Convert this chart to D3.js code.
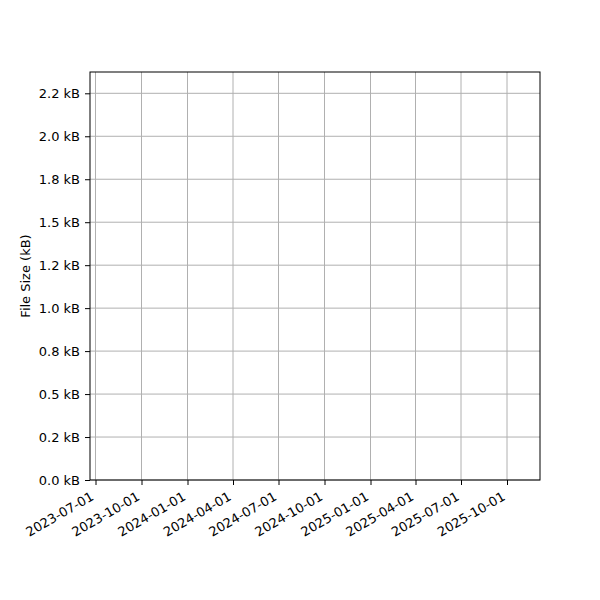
<!DOCTYPE html>
<html>
<head>
<meta charset="utf-8">
<script src="https://cdn.jsdelivr.net/npm/d3@7"></script>
<style>
  body { margin: 0; background: #fff; }
  text { font-family: "DejaVu Sans", sans-serif; }
</style>
</head>
<body>
<div id="chart"></div>
<script>
// data: the plotted series is empty in the reference
const fileDates = [];
const fileSizes = [];

// axis limits and ticks
const xDomain = ["2023-06-20", "2025-12-06"];
const xTickDates = ["2023-07-01", "2023-10-01", "2024-01-01", "2024-04-01", "2024-07-01",
                    "2024-10-01", "2025-01-01", "2025-04-01", "2025-07-01", "2025-10-01"];
const yDomain = [0, 2374];
const yTickValues = [0, 250, 500, 750, 1000, 1250, 1500, 1750, 2000, 2250];
const yTickLabels = ["0.0 kB", "0.2 kB", "0.5 kB", "0.8 kB", "1.0 kB",
                     "1.2 kB", "1.5 kB", "1.8 kB", "2.0 kB", "2.2 kB"];

const W = 600, H = 600;
const mLeft = 90, mRight = 540, mTop = 72, mBottom = 480;

const parse = d3.utcParse("%Y-%m-%d");

const svg = d3.select("#chart").append("svg")
    .attr("width", W).attr("height", H);

const x = d3.scaleUtc()
    .domain(xDomain.map(parse))
    .range([mLeft, mRight]);

const y = d3.scaleLinear()
    .domain(yDomain)
    .range([mBottom, mTop]);

// grid
svg.append("g").selectAll("line")
    .data(xTickDates.map(parse))
    .join("line")
    .attr("x1", d => x(d)).attr("x2", d => x(d))
    .attr("y1", mTop).attr("y2", mBottom)
    .attr("stroke", "#b0b0b0").attr("stroke-width", 1);

svg.append("g").selectAll("line")
    .data(yTickValues)
    .join("line")
    .attr("x1", mLeft).attr("x2", mRight)
    .attr("y1", d => y(d)).attr("y2", d => y(d))
    .attr("stroke", "#b0b0b0").attr("stroke-width", 1);

// series (empty)
const line = d3.line()
    .x((d, i) => x(parse(fileDates[i])))
    .y(d => y(d));
if (fileSizes.length) {
    svg.append("path")
        .attr("d", line(fileSizes))
        .attr("fill", "none")
        .attr("stroke", "#1f77b4")
        .attr("stroke-width", 2);
}

// x axis
const xAxis = svg.append("g")
    .attr("transform", `translate(0,${mBottom})`)
    .call(d3.axisBottom(x)
        .tickValues(xTickDates.map(parse))
        .tickFormat(d3.utcFormat("%Y-%m-%d"))
        .tickSize(5).tickPadding(5));
xAxis.select(".domain").remove();
xAxis.selectAll(".tick line").attr("stroke", "#000").attr("stroke-width", 1);
xAxis.selectAll(".tick text")
    .attr("font-size", 13)
    .attr("fill", "#000")
    .attr("text-anchor", "end")
    .attr("dy", "0.72em")
    .attr("y", 0).attr("x", 0)
    .attr("transform", "translate(-6,11) rotate(-30)");

// y axis
const yAxis = svg.append("g")
    .attr("transform", `translate(${mLeft},0)`)
    .call(d3.axisLeft(y)
        .tickValues(yTickValues)
        .tickFormat((d, i) => yTickLabels[i])
        .tickSize(5).tickPadding(5));
yAxis.select(".domain").remove();
yAxis.selectAll(".tick line").attr("stroke", "#000").attr("stroke-width", 1);
yAxis.selectAll(".tick text").attr("font-size", 13).attr("fill", "#000");

// frame
svg.append("rect")
    .attr("x", mLeft).attr("y", mTop)
    .attr("width", mRight - mLeft).attr("height", mBottom - mTop)
    .attr("fill", "none").attr("stroke", "#000").attr("stroke-width", 1);

// y label
svg.append("text")
    .attr("transform", `translate(30,${(mTop + mBottom) / 2}) rotate(-90)`)
    .attr("text-anchor", "middle")
    .attr("font-size", 13)
    .text("File Size (kB)");
</script>
</body>
</html>
